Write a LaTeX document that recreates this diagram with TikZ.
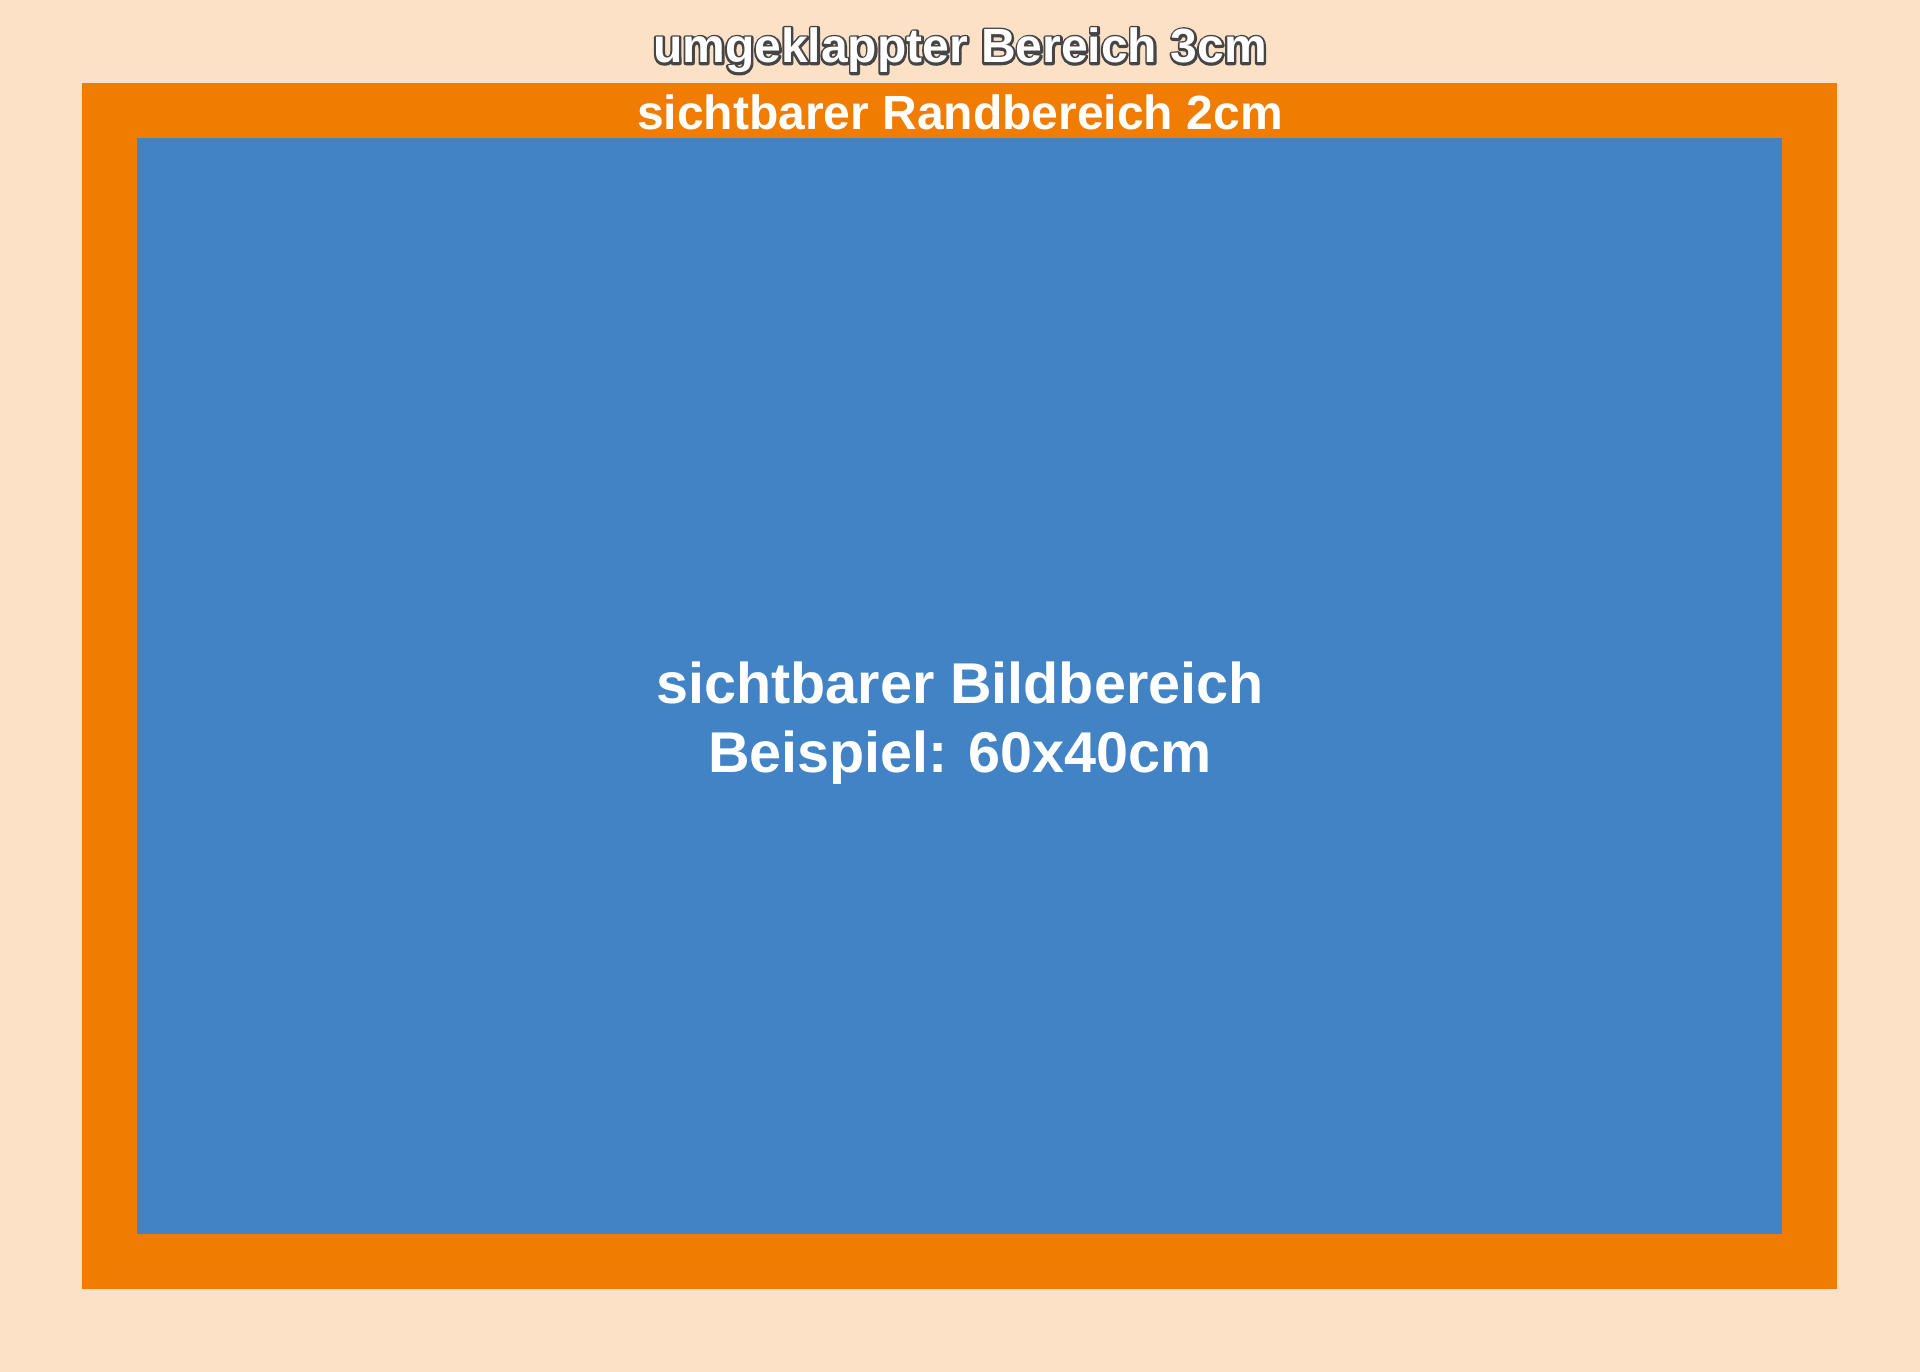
\documentclass[tikz,border=0pt]{standalone}
\usepackage{fontspec}
\setmainfont{Liberation Sans}
\definecolor{bgpeach}{RGB}{253,225,199}
\definecolor{randorange}{RGB}{240,125,2}
\definecolor{bildblue}{RGB}{65,131,197}
\definecolor{outlinegray}{RGB}{70,70,70}
\newcommand{\strokedtext}[1]{\special{pdf:literal direct 2 Tr 4.6 w 1 j 0.27 0.27 0.27 RG 0.27 0.27 0.27 rg}#1\special{pdf:literal direct 0 Tr}}
\begin{document}
\begin{tikzpicture}[x=1pt,y=-1pt,
  labeltext/.style={font=\bfseries\fontsize{48}{58}\selectfont, text=white, inner sep=0pt, anchor=base},
  bigtext/.style={font=\bfseries\fontsize{57.5}{69}\selectfont, text=white, inner sep=0pt, anchor=base}]
\useasboundingbox (0,0) rectangle (1920,1372);
\fill[bgpeach] (0,0) rectangle (1920,1372);
\fill[randorange] (82,83) rectangle (1837,1289);
\fill[bildblue] (137,138) rectangle (1782,1234);
\node[labeltext,text=outlinegray] (umgoutline) at (960,63) {\strokedtext{umgeklappter Bereich 3cm}};
\node[labeltext] (umg) at (960,63) {umgeklappter Bereich 3cm};
\node[labeltext] (rand) at (960,130) {sichtbarer Randbereich 2cm};
\node[bigtext] (bild1) at (960,703) {sichtbarer Bildbereich};
\node[bigtext] (bild2) at (960,772) {Beispiel: 60x40cm};
\end{tikzpicture}
\end{document}
